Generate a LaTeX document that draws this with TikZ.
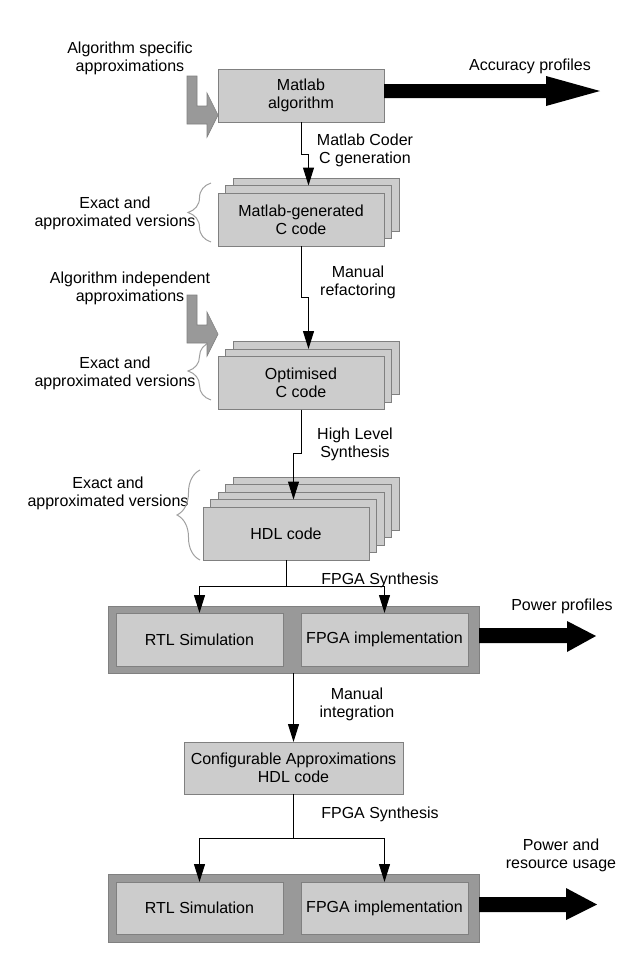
\documentclass[tikz,border=0pt]{standalone}
\usepackage{fontspec}
\setmainfont{Liberation Sans}
\usetikzlibrary{arrows.meta,calc,decorations.pathreplacing}
\definecolor{boxgray}{HTML}{CCCCCC}
\definecolor{edgegray}{HTML}{808080}
\definecolor{contgray}{HTML}{999999}
\definecolor{bentgray}{HTML}{999999}
\definecolor{bracegray}{HTML}{A0A0A0}
\begin{document}
\begin{tikzpicture}[x=0.75pt,y=-0.75pt,
  every node/.style={font=\fontsize{12}{13.5}\selectfont, inner sep=0pt, outer sep=0pt, align=center},
  box/.style={draw=edgegray, fill=boxgray, line width=0.75pt, minimum width=124.5pt, minimum height=39.75pt},
  cfgbox/.style={box, minimum width=164.25pt, minimum height=39pt},
  contbox/.style={draw=edgegray, fill=contgray, line width=0.75pt, minimum width=278.25pt, minimum height=50.25pt},
  innerbox/.style={box, minimum width=125.25pt, minimum height=39.75pt},
  conn/.style={line width=0.75pt, -{Triangle[length=13.5pt,width=8.25pt]}},
  bigarrow/.style={fill=black},
  bentarrow/.style={fill=bentgray, draw=edgegray, line width=0.5pt},
  bracestyle/.style={draw=bracegray, line width=0.75pt, decorate, decoration={brace, amplitude=17.25pt}},
  lbl/.style={yshift=-1.2pt}
]
\useasboundingbox (0,0) rectangle (633,972);

% ---- Matlab algorithm
\node[box] (matlab) at (301,95.5) {Matlab\\algorithm};

% ---- Matlab-generated C code stack
\node[box] (mg3) at (316,204.5) {};
\node[box] (mg2) at (308.5,212) {};
\node[box] (mg1) at (301,219.5) {Matlab-generated\\C code};

% ---- Optimised C code stack
\node[box] (opt3) at (316,368) {};
\node[box] (opt2) at (308.5,375.5) {};
\node[box] (opt1) at (301,383) {Optimised\\C code};

% ---- HDL code stack
\node[box] (hdl5) at (316,503.5) {};
\node[box] (hdl4) at (308.5,511) {};
\node[box] (hdl3) at (301,518.5) {};
\node[box] (hdl2) at (293.5,526) {};
\node[box] (hdl1) at (286,533.5) {HDL code};

% ---- First container
\node[contbox] (cont1) at (293.5,639.5) {};
\node[innerbox] (rtl1) at (199.5,639.5) {RTL Simulation};
\node[innerbox] (fpga1) at (384.5,639.5) {FPGA implementation};

% ---- Configurable approximations
\node[cfgbox] (config) at (293.5,768) {Configurable Approximations\\HDL code};

% ---- Second container
\node[contbox, minimum height=51pt] (cont2) at (293.5,908) {};
\node[innerbox, minimum height=39pt] (rtl2) at (199.5,908) {RTL Simulation};
\node[innerbox, minimum height=39pt] (fpga2) at (384.5,908) {FPGA implementation};

% ---- Labels
\node[lbl] (algspec) at (130,57) {Algorithm specific\\approximations};
\node[lbl] (accprof) at (530,65) {Accuracy profiles};
\node[lbl] (coder) at (365,148.5) {Matlab Coder\\C generation};
\node[lbl] (exact1) at (115,212) {Exact and\\approximated versions};
\node[lbl] (algind) at (130,287) {Algorithm independent\\approximations};
\node[lbl] (refact) at (358,280.5) {Manual\\refactoring};
\node[lbl] (exact2) at (115,371.5) {Exact and\\approximated versions};
\node[lbl] (hls) at (355,443) {High Level\\Synthesis};
\node[lbl] (exact3) at (108,491.5) {Exact and\\approximated versions};
\node[lbl] (fsyn1) at (380,579) {FPGA Synthesis};
\node[lbl] (powprof) at (562,605) {Power profiles};
\node[lbl] (integ) at (357,703) {Manual\\integration};
\node[lbl] (fsyn2) at (380,813) {FPGA Synthesis};
\node[lbl] (powres) at (561,854) {Power and\\resource usage};

% ---- Braces
\draw[bracestyle] (211,242) -- (211,183);
\draw[bracestyle] (211,400) -- (211,342);
\draw[bracestyle] (200,560) -- (200,470);

% ---- Bent gray arrows
\filldraw[bentarrow] (187,76) -- (197,76) -- (197,106) -- (207,106) -- (207,93) -- (matlab.west |- 0,115) -- (207,137) -- (207,124) -- (187,124) -- cycle;
\filldraw[bentarrow] (187,295) -- (197,295) -- (197,325) -- (207,325) -- (207,312) -- (218,334) -- (207,356) -- (207,343) -- (187,343) -- cycle;

% ---- Connectors
\draw[conn] (matlab.south) -- ++(0,32) -| (mg2.north);
\draw[conn] (mg1.south) -- ++(0,51) -| (opt2.north);
\draw[conn] (opt1.south) -- ++(0,44) -| (hdl2.north);
\draw[conn] (hdl1.south) -- ++(0,26) -| (rtl1.north);
\draw[conn] (hdl1.south) -- ++(0,26) -| (fpga1.north);
\draw[conn] (cont1.south) -- (config.north);
\draw[conn] (config.south) -- ++(0,44) -| (rtl2.north);
\draw[conn] (config.south) -- ++(0,44) -| (fpga2.north);

% ---- Big black arrows
\coordinate (acctip) at (600,91);
\fill[bigarrow] ($(matlab.east)+(0,-11.5)$) -- (546,84) -- (546,76) -- (acctip) -- (546,106) -- (546,98) -- ($(matlab.east)+(0,2.5)$) -- cycle;
\coordinate (powtip) at (596,636);
\fill[bigarrow] ($(cont1.east)+(0,-11.5)$) -- (567,628) -- (567,621) -- (powtip) -- (567,652) -- (567,643) -- ($(cont1.east)+(0,3.5)$) -- cycle;
\coordinate (restip) at (597,904.5);
\fill[bigarrow] ($(cont2.east)+(0,-11)$) -- (566,897) -- (566,888) -- (restip) -- (566,920) -- (566,912) -- ($(cont2.east)+(0,4)$) -- cycle;
\end{tikzpicture}
\end{document}
